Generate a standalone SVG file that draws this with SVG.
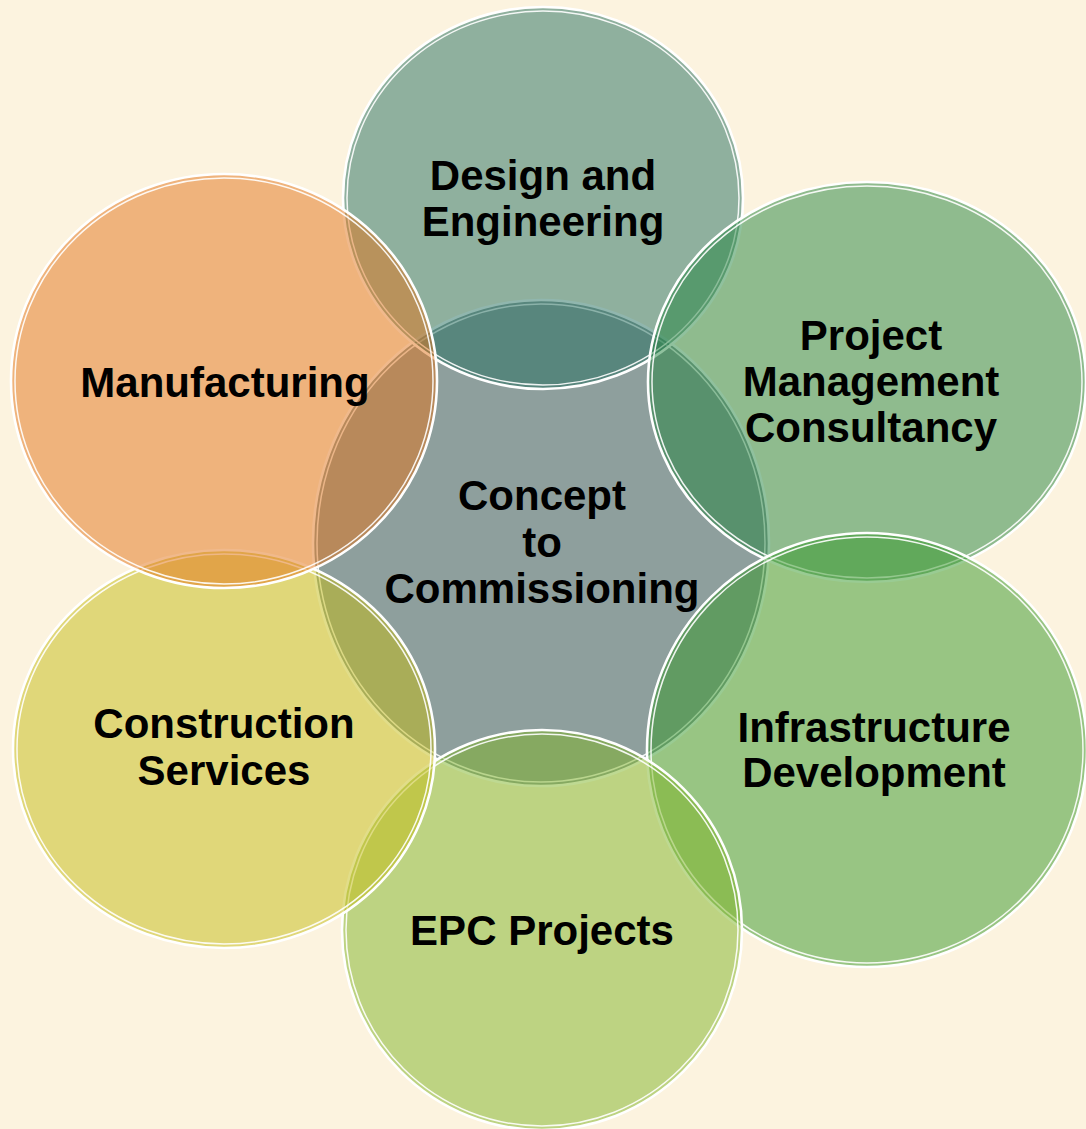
<svg xmlns="http://www.w3.org/2000/svg" width="1086" height="1129" viewBox="0 0 1086 1129">
<style>
.fill{fill-opacity:0.5;stroke:none}
.ring1{fill:none;stroke:#ffffff;stroke-width:2.6}
.ring2{fill:none;stroke:#ffffff;stroke-width:1.5;stroke-opacity:0.9}
.lbl{font-family:"Liberation Sans",Arial,sans-serif;font-weight:bold;font-size:42px;fill:#000;text-anchor:middle}
</style>
<rect width="1086" height="1129" fill="#fcf3df"/>
<g id="concept">
<ellipse class="fill" cx="541" cy="543" rx="228" ry="243" fill="#1f4b5c"/>
<ellipse class="ring1" cx="541" cy="543" rx="228" ry="243"/>
<ellipse class="ring2" cx="541" cy="543" rx="224" ry="239"/>
</g>
<g id="design">
<ellipse class="fill" cx="543" cy="198" rx="200" ry="191" fill="#216d5e"/>
<ellipse class="ring1" cx="543" cy="198" rx="200" ry="191"/>
<ellipse class="ring2" cx="543" cy="198" rx="196" ry="187"/>
</g>
<g id="pmc">
<ellipse class="fill" cx="867" cy="382" rx="219" ry="200" fill="#21833e"/>
<ellipse class="ring1" cx="867" cy="382" rx="219" ry="200"/>
<ellipse class="ring2" cx="867" cy="382" rx="215" ry="196"/>
</g>
<g id="infrastructure">
<ellipse class="fill" cx="867" cy="750" rx="220" ry="217" fill="#339728"/>
<ellipse class="ring1" cx="867" cy="750" rx="220" ry="217"/>
<ellipse class="ring2" cx="867" cy="750" rx="216" ry="213"/>
</g>
<g id="epc">
<ellipse class="fill" cx="542" cy="930" rx="200" ry="200" fill="#7db326"/>
<ellipse class="ring1" cx="542" cy="930" rx="200" ry="200"/>
<ellipse class="ring2" cx="542" cy="930" rx="196" ry="196"/>
</g>
<g id="construction">
<ellipse class="fill" cx="224" cy="749" rx="211" ry="199" fill="#c3bb14"/>
<ellipse class="ring1" cx="224" cy="749" rx="211" ry="199"/>
<ellipse class="ring2" cx="224" cy="749" rx="207" ry="195"/>
</g>
<g id="manufacturing">
<ellipse class="fill" cx="224" cy="381" rx="213" ry="207" fill="#e17319"/>
<ellipse class="ring1" cx="224" cy="381" rx="213" ry="207"/>
<ellipse class="ring2" cx="224" cy="381" rx="209" ry="203"/>
</g>
<g id="labels">
<text class="lbl" x="543" y="190">Design and</text>
<text class="lbl" x="543" y="236">Engineering</text>
<text class="lbl" x="225" y="397">Manufacturing</text>
<text class="lbl" x="871" y="350">Project</text>
<text class="lbl" x="871" y="396">Management</text>
<text class="lbl" x="871" y="442">Consultancy</text>
<text class="lbl" x="542" y="510">Concept</text>
<text class="lbl" x="542" y="557">to</text>
<text class="lbl" x="542" y="603">Commissioning</text>
<text class="lbl" x="224" y="738">Construction</text>
<text class="lbl" x="224" y="785">Services</text>
<text class="lbl" x="874" y="742">Infrastructure</text>
<text class="lbl" x="874" y="787">Development</text>
<text class="lbl" x="542" y="945">EPC Projects</text>
</g>
<g id="connectors"/>
</svg>
